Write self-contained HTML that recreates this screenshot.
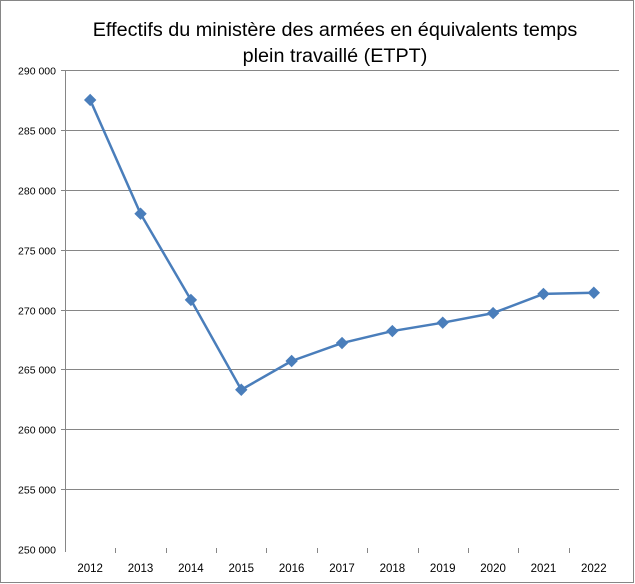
<!DOCTYPE html>
<html><head><meta charset="utf-8"><style>
html,body{margin:0;padding:0;background:#fff}
svg{display:block;font-family:"Liberation Sans",sans-serif}
</style></head><body>
<svg width="635" height="584" viewBox="0 0 635 584">
<rect x="0.5" y="0.5" width="633" height="582" fill="#fff" stroke="#868686"/>
<text x="335" y="36" text-anchor="middle" font-size="19.8" fill="#000">Effectifs du ministère des armées en équivalents temps</text>
<text x="335" y="62" text-anchor="middle" font-size="19.8" fill="#000">plein travaillé (ETPT)</text>
<g id="grid"></g><g id="ylabels"></g><g id="xaxis"></g><g id="series"></g>
</svg>
<script>
const years=["2012","2013","2014","2015","2016","2017","2018","2019","2020","2021","2022"];
const values=[287500,278000,270800,263300,265700,267200,268200,268900,269700,271300,271400];
const yTicks=[250000,255000,260000,265000,270000,275000,280000,285000,290000];
const yTickLabels=["250 000","255 000","260 000","265 000","270 000","275 000","280 000","285 000","290 000"];
const NS="http://www.w3.org/2000/svg";
const L=65,R=619,T=70,B=549,yMin=250000,yMax=290000;
const bw=(R-L)/years.length;
const xs=i=>L+bw*(i+0.5);
const ys=v=>B-(v-yMin)/(yMax-yMin)*(B-T);
function mk(t,a,p){const e=document.createElementNS(NS,t);for(const k in a)e.setAttribute(k,a[k]);p.appendChild(e);return e;}
const g=document.getElementById('grid'),yl=document.getElementById('ylabels'),xa=document.getElementById('xaxis'),s=document.getElementById('series');
yTicks.forEach((v,i)=>{
 const y=Math.round(ys(v))+0.5;
 if(v>yMin){const ln=mk('line',{x1:L-4,x2:R,y1:y,y2:y,stroke:'#868686','stroke-width':1},g);
 
 }
 const t=mk('text',{x:L-9,y:y+4,'text-anchor':'end','font-size':10.5,fill:'#000'},yl);t.textContent=yTickLabels[i];
 
 
});
const ax=mk('line',{x1:L+0.5,x2:L+0.5,y1:T,y2:B+3,stroke:'#868686'},xa);


years.forEach((yr,i)=>{
 if(i>0){const tk=mk('line',{x1:Math.round(L+bw*i)+0.5,x2:Math.round(L+bw*i)+0.5,y1:B-1,y2:B+4,stroke:'#868686'},xa);
 
 }
 const t=mk('text',{x:xs(i),y:B+23,'text-anchor':'middle','font-size':11.5,fill:'#000'},xa);t.textContent=yr;
 
 
});
const pl=mk('polyline',{points:values.map((v,i)=>xs(i)+','+ys(v)).join(' '),fill:'none',stroke:'#4a7ebb','stroke-width':2.5,'stroke-linejoin':'round'},s);


values.forEach((v,i)=>{
 const x=xs(i),y=ys(v),d=5.5;
 const m=mk('polygon',{points:`${x},${y-d} ${x+d},${y} ${x},${y+d} ${x-d},${y}`,fill:'#4a7ebb',stroke:'#4a7ebb'},s);
 
 
});
</script>
</body></html>
